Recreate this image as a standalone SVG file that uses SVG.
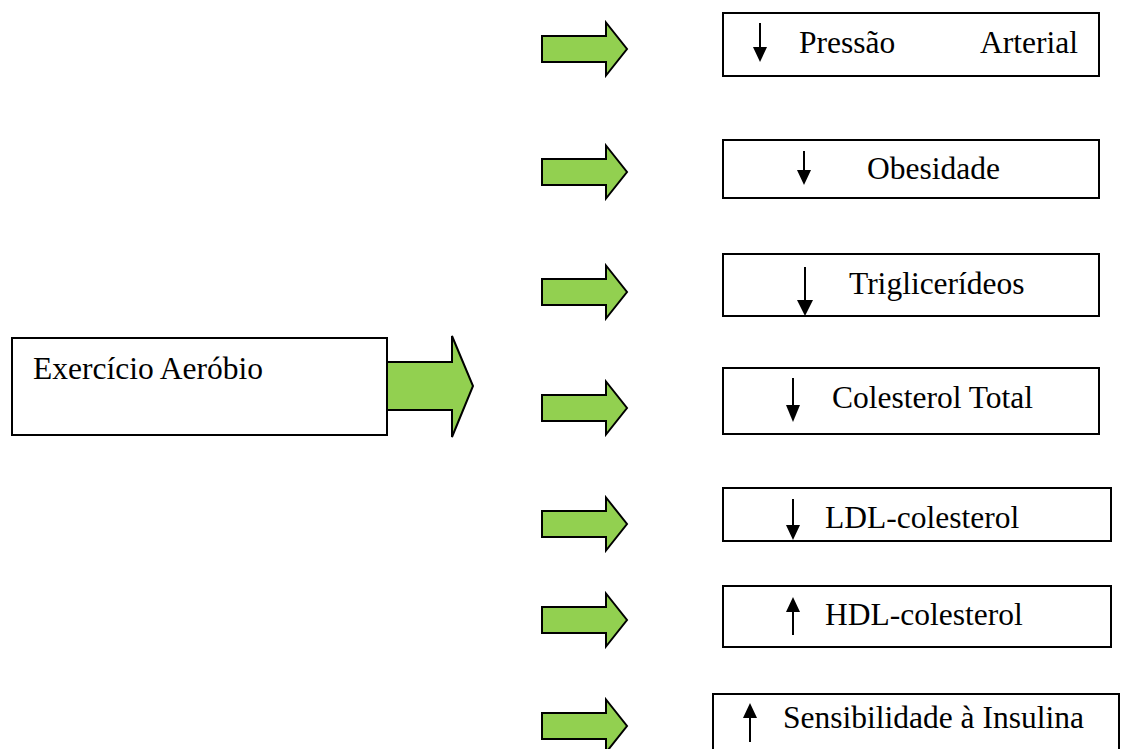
<svg xmlns="http://www.w3.org/2000/svg" width="1122" height="749" viewBox="0 0 1122 749">
  <style>
    .box { fill: #ffffff; stroke: #000000; stroke-width: 2; }
    .flow { fill: #92D050; stroke: #000000; stroke-width: 2; stroke-linejoin: miter; }
    .lbl { font-family: "Liberation Serif", "Times New Roman", serif; font-size: 31.5px; fill: #000000; }
    .ind { stroke: #000000; stroke-width: 2; fill: none; }
    .tip { fill: #000000; stroke: none; }
  </style>
  <defs>
    <!-- block arrow, tip at origin's right, centred on y=0 -->
    <path id="blockArrow" d="M542,-13 H606 V-26.5 L627,0 L606,26.5 V13 H542 Z"/>
  </defs>

  <rect width="1122" height="749" fill="#ffffff"/>

  <g id="connectors">
    <!-- main arrow leaving the source box (left end hidden under the box edge) -->
    <path class="flow" d="M387,362 H452 V336 L473,386 L452,437 V410 H387"/>
    <use href="#blockArrow" class="flow" transform="translate(0,49)"/>
    <use href="#blockArrow" class="flow" transform="translate(0,172)"/>
    <use href="#blockArrow" class="flow" transform="translate(0,292)"/>
    <use href="#blockArrow" class="flow" transform="translate(0,408)"/>
    <use href="#blockArrow" class="flow" transform="translate(0,524)"/>
    <use href="#blockArrow" class="flow" transform="translate(0,620)"/>
    <use href="#blockArrow" class="flow" transform="translate(0,726)"/>
  </g>

  <g id="node-exercicio">
    <rect class="box" x="12" y="338" width="375" height="97"/>
    <text class="lbl" x="33" y="379">Exercício Aeróbio</text>
  </g>

  <g id="node-pressao">
    <rect class="box" x="723" y="13" width="376" height="63"/>
    <line class="ind" x1="760" y1="23" x2="760" y2="50"/>
    <polygon class="tip" points="753,47 767,47 760,62"/>
    <text class="lbl" x="799" y="53">Pressão</text>
    <text class="lbl" x="1078" y="53" text-anchor="end">Arterial</text>
  </g>

  <g id="node-obesidade">
    <rect class="box" x="723" y="140" width="376" height="58"/>
    <line class="ind" x1="804" y1="151" x2="804" y2="173"/>
    <polygon class="tip" points="797,170 811,170 804,185"/>
    <text class="lbl" x="867" y="179">Obesidade</text>
  </g>

  <g id="node-triglicerideos">
    <rect class="box" x="723" y="254" width="376" height="62"/>
    <line class="ind" x1="805" y1="267" x2="805" y2="303"/>
    <polygon class="tip" points="797,300 813,300 805,316"/>
    <text class="lbl" x="849" y="294">Triglicerídeos</text>
  </g>

  <g id="node-colesterol-total">
    <rect class="box" x="723" y="368" width="376" height="66"/>
    <line class="ind" x1="793" y1="378" x2="793" y2="408"/>
    <polygon class="tip" points="786,405 800,405 793,422"/>
    <text class="lbl" x="832" y="408">Colesterol Total</text>
  </g>

  <g id="node-ldl">
    <rect class="box" x="723" y="488" width="388" height="53"/>
    <line class="ind" x1="793" y1="499" x2="793" y2="528"/>
    <polygon class="tip" points="786,525 800,525 793,540"/>
    <text class="lbl" x="825" y="528">LDL-colesterol</text>
  </g>

  <g id="node-hdl">
    <rect class="box" x="723" y="586" width="388" height="61"/>
    <line class="ind" x1="793" y1="609" x2="793" y2="635"/>
    <polygon class="tip" points="786,612 800,612 793,597"/>
    <text class="lbl" x="825" y="625">HDL-colesterol</text>
  </g>

  <g id="node-insulina">
    <rect class="box" x="713" y="694" width="406" height="70"/>
    <line class="ind" x1="750" y1="715" x2="750" y2="742"/>
    <polygon class="tip" points="743,718 757,718 750,703"/>
    <text class="lbl" x="783" y="728">Sensibilidade à Insulina</text>
  </g>
</svg>
